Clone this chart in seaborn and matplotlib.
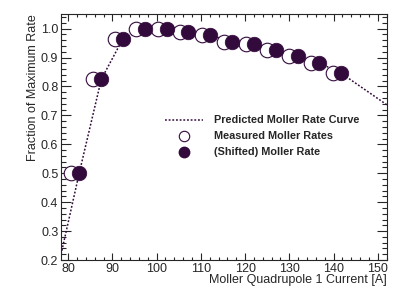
import numpy as np
import pandas as pd
import matplotlib
matplotlib.use("Agg")
import matplotlib.pyplot as plt
import seaborn as sns
from matplotlib.ticker import MultipleLocator
from matplotlib.lines import Line2D

# ================================
# DATA
# ================================
measured_current = [80.6, 85.6, 90.5, 95.4, 100.4, 105.3, 110.2, 115.2, 120.1, 125.0, 130.0, 134.9, 139.8]
shifted_current = [82.5, 87.5, 92.4, 97.3, 102.3, 107.2, 112.1, 117.1, 122.0, 126.9, 131.9, 136.8, 141.7]
rate_fraction = [0.500, 0.825, 0.965, 1.000, 0.997, 0.989, 0.977, 0.955, 0.946, 0.927, 0.905, 0.881, 0.846]

curve_current = [78.4, 82.5, 87.5, 92.4, 97.3, 102.3, 107.2, 112.1, 117.1, 122.0, 126.9, 131.9, 136.8, 141.7, 152.2]
curve_fraction = [0.22, 0.500, 0.825, 0.965, 1.000, 0.997, 0.989, 0.977, 0.955, 0.946, 0.927, 0.905, 0.881, 0.846, 0.735]

PURPLE = "#330a3c"
DOTS = (0, (1.2, 1.2))

# ================================
# PLOT
# ================================
sns.set_style("ticks")
plt.rcParams['font.family'] = ['Liberation Sans', 'DejaVu Sans']

fig = plt.figure(figsize=(4.07, 2.88), dpi=100)
ax = fig.add_axes([0.150, 0.097, 0.801, 0.854])

curve_df = pd.DataFrame({'x': curve_current, 'y': curve_fraction})
meas_df = pd.DataFrame({'x': measured_current, 'y': rate_fraction})
shift_df = pd.DataFrame({'x': shifted_current, 'y': rate_fraction})

sns.lineplot(data=curve_df, x='x', y='y', ax=ax, color=PURPLE, linestyle=DOTS,
             linewidth=1.1, sort=False, zorder=1)
sns.scatterplot(data=meas_df, x='x', y='y', ax=ax, s=110, facecolor='white',
                edgecolor=PURPLE, linewidth=0.8, zorder=2)
sns.scatterplot(data=shift_df, x='x', y='y', ax=ax, s=110, color=PURPLE,
                edgecolor=PURPLE, linewidth=0.5, zorder=3)

ax.set_xlim(78.4, 152.1)
ax.set_ylim(0.2, 1.05)
ax.xaxis.set_major_locator(MultipleLocator(10))
ax.xaxis.set_minor_locator(MultipleLocator(2))
ax.yaxis.set_major_locator(MultipleLocator(0.1))
ax.yaxis.set_minor_locator(MultipleLocator(0.02))
ax.tick_params(which='both', direction='in', top=True, right=True, labelsize=9, width=0.8)
ax.tick_params(axis='x', which='major', length=5, pad=2)
ax.tick_params(axis='x', which='minor', length=2.5)
ax.tick_params(axis='y', which='major', length=7, pad=2)
ax.tick_params(axis='y', which='minor', length=3.6)
for sp in ax.spines.values():
    sp.set_linewidth(0.8)

ax.set_xlabel('Moller Quadrupole 1 Current [A]', fontsize=9, loc='right')
ax.set_ylabel('Fraction of Maximum Rate', fontsize=9, loc='top')
ax.xaxis.set_label_coords(1.0, -0.058)
ax.yaxis.set_label_coords(-0.068, 1.0)

handles = [
    Line2D([], [], color=PURPLE, linestyle=DOTS, linewidth=1.1),
    Line2D([], [], marker='o', linestyle='none', markersize=7.5, markerfacecolor='white',
           markeredgecolor=PURPLE, markeredgewidth=0.8),
    Line2D([], [], marker='o', linestyle='none', markersize=7.5, color=PURPLE),
]
labels = ['Predicted Moller Rate Curve', 'Measured Moller Rates', '(Shifted) Moller Rate']
ax.legend(handles, labels, loc='center left', bbox_to_anchor=(0.319, 0.503), frameon=False,
          prop={'weight': 'bold', 'size': 7.8}, handlelength=3.5, handletextpad=1.05,
          labelspacing=0.55, borderpad=0, borderaxespad=0)

fig.savefig('out.png', dpi=100)
